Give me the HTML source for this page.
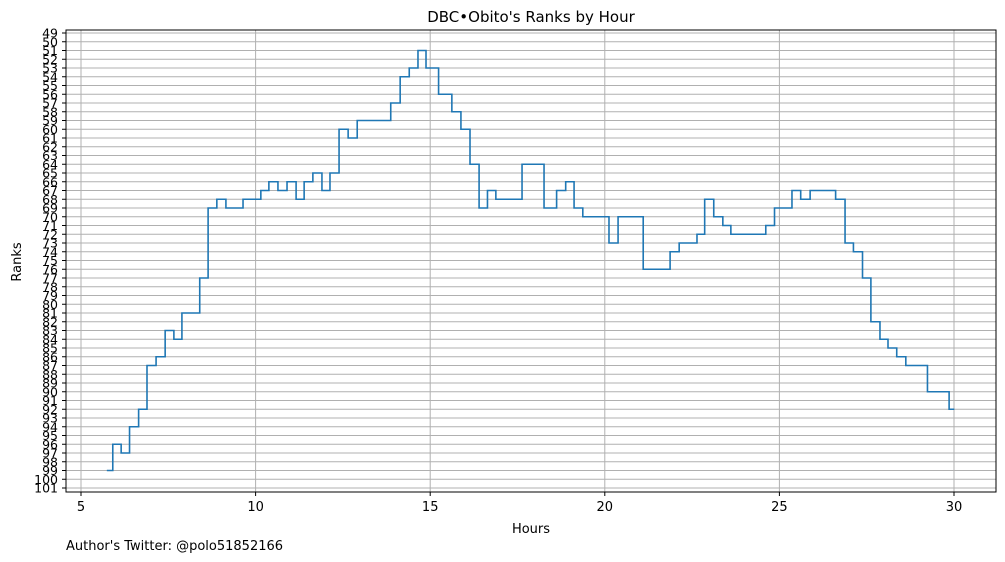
<!DOCTYPE html>
<html><head><meta charset="utf-8"><style>
body{margin:0;background:#fff;}
svg{display:block;font-family:"DejaVu Sans","Liberation Sans",sans-serif;}
</style></head><body>
<svg id="chart" width="1005" height="562">
<text x="531" y="22" text-anchor="middle" font-size="15">DBC•Obito's Ranks by Hour</text>
<g id="grid"></g>
<g id="yticks"></g>
<g id="xticks"></g>
<path id="line" fill="none" stroke="#1f77b4" stroke-width="1.6"/>
<rect x="66" y="30" width="930" height="462" fill="none" stroke="#000" stroke-width="1"/>
<text x="531" y="533" text-anchor="middle" font-size="13">Hours</text>
<text transform="translate(21,262) rotate(-90)" text-anchor="middle" font-size="13">Ranks</text>
<text x="66" y="550" font-size="13">Author's Twitter: @polo51852166</text>
</svg>
<script>
const hours=[5.74,5.91,6.15,6.39,6.65,6.89,7.15,7.41,7.66,7.89,8.40,8.64,8.89,9.15,9.64,10.15,10.38,10.64,10.90,11.16,11.39,11.64,11.90,12.13,12.39,12.65,12.91,13.87,14.14,14.40,14.65,14.88,15.24,15.62,15.88,16.14,16.40,16.64,16.88,17.63,18.26,18.62,18.88,19.12,19.37,20.12,20.38,21.10,21.87,22.13,22.64,22.86,23.12,23.38,23.61,24.61,24.86,25.36,25.61,25.88,26.61,26.88,27.12,27.38,27.62,27.88,28.11,28.36,28.62,29.24,29.86];
const ranks=[99,96,97,94,92,87,86,83,84,81,77,69,68,69,68,67,66,67,66,68,66,65,67,65,60,61,59,57,54,53,51,53,56,58,60,64,69,67,68,64,69,67,66,69,70,73,70,76,74,73,72,68,70,71,72,71,69,67,68,67,68,73,74,77,82,84,85,86,87,90,92];
const endHour=30.01;
const xTicks=[5,10,15,20,25,30];
const rankMin=49, rankMax=101;
const NS="http://www.w3.org/2000/svg";
const X=h=>81+(h-5)*34.92;
const Y=r=>33+(r-rankMin)*8.75;
const grid=document.getElementById('grid'),yt=document.getElementById('yticks'),xt=document.getElementById('xticks');
for(let r=rankMin;r<=rankMax;r++){
  const l=document.createElementNS(NS,'line');
  l.setAttribute('x1',66);l.setAttribute('x2',996);l.setAttribute('y1',Y(r));l.setAttribute('y2',Y(r));
  l.setAttribute('stroke','#b0b0b0');l.setAttribute('stroke-width','1');
  
  
  grid.appendChild(l);
  const t=document.createElementNS(NS,'line');
  t.setAttribute('x1',62);t.setAttribute('x2',66);t.setAttribute('y1',Y(r));t.setAttribute('y2',Y(r));t.setAttribute('stroke','#000');
  
  
  yt.appendChild(t);
  const tx=document.createElementNS(NS,'text');
  tx.setAttribute('x',58);tx.setAttribute('y',Y(r)+4.5);tx.setAttribute('text-anchor','end');tx.setAttribute('font-size','12.5');
  tx.textContent=r;
  
  
  yt.appendChild(tx);
}
xTicks.forEach(h=>{
  const l=document.createElementNS(NS,'line');
  l.setAttribute('x1',X(h));l.setAttribute('x2',X(h));l.setAttribute('y1',30);l.setAttribute('y2',492);
  l.setAttribute('stroke','#b0b0b0');
  
  
  grid.appendChild(l);
  const t=document.createElementNS(NS,'line');
  t.setAttribute('x1',X(h));t.setAttribute('x2',X(h));t.setAttribute('y1',492);t.setAttribute('y2',496);t.setAttribute('stroke','#000');
  
  
  xt.appendChild(t);
  const tx=document.createElementNS(NS,'text');
  tx.setAttribute('x',X(h));tx.setAttribute('y',511);tx.setAttribute('text-anchor','middle');tx.setAttribute('font-size','13');
  tx.textContent=h;
  
  
  xt.appendChild(tx);
});
let d='M'+X(hours[0])+','+Y(ranks[0]);
for(let i=1;i<hours.length;i++){d+=' H'+X(hours[i])+' V'+Y(ranks[i]);}
d+=' H'+X(endHour);
document.getElementById('line').setAttribute('d',d);
</script>
</body></html>
